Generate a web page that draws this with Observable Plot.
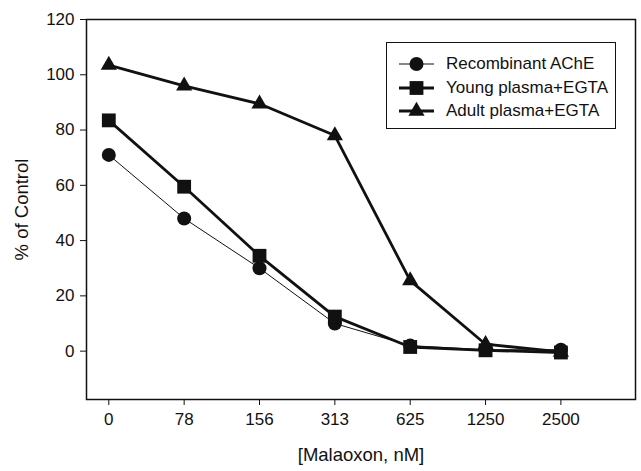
<!DOCTYPE html>
<html>
<head>
<meta charset="utf-8">
<script src="https://cdn.jsdelivr.net/npm/d3@7"></script>
<script src="https://cdn.jsdelivr.net/npm/@observablehq/plot@0.6"></script>
<style>
  html, body { margin: 0; padding: 0; background: #fff; }
  #wrap { position: relative; width: 641px; height: 471px; font-family: "Liberation Sans", Arial, sans-serif; }
  #legend { position: absolute; left: 386px; top: 42px; width: 230px; height: 87px; border: 1.5px solid #111; background: #fff; box-sizing: border-box; }
  .row { position: absolute; left: 0; height: 24px; display: flex; align-items: center; }
  .row span { font-size: 17px; color: #111; white-space: nowrap; }
</style>
</head>
<body>
<div id="wrap"></div>
<script>
const doses = ["0", "78", "156", "313", "625", "1250", "2500"];
const recombinant = [71, 48, 30, 10, 2, 0.5, 0.5];
const young = [83.5, 59.5, 34.5, 12.5, 1.5, 0.3, -0.5];
const adult = [103.5, 96, 89.5, 78, 25.5, 2.5, -0.3];
const seriesNames = ["Recombinant AChE", "Young plasma+EGTA", "Adult plasma+EGTA"];
const yTicks = [0, 20, 40, 60, 80, 100, 120];

const seriesValues = [recombinant, young, adult];
const symbols = ["circle", "square", "triangle"];
const radii = [7, 7.8, 6];
const widths = [1, 2.8, 2.8];

const rows = [];
seriesValues.forEach((vals, s) => vals.forEach((v, i) => rows.push({series: seriesNames[s], i, v})));

const marks = [];
seriesNames.forEach((name, s) => {
  const d = rows.filter(r => r.series === name);
  marks.push(Plot.line(d, {x: "i", y: "v", stroke: "#111", strokeWidth: widths[s]}));
});
seriesNames.forEach((name, s) => {
  const d = rows.filter(r => r.series === name);
  marks.push(Plot.dot(d, {x: "i", y: "v", symbol: () => symbols[s], r: radii[s], fill: "#111", stroke: "none"}));
});

const chart = Plot.plot({
  width: 641,
  height: 471,
  marginLeft: 86,
  marginRight: 6,
  marginTop: 19,
  marginBottom: 72,
  style: {fontFamily: "'Liberation Sans', Arial, sans-serif", fontSize: "17px", color: "#111", background: "#fff"},
  symbol: {type: "identity"},
  x: {type: "linear", domain: [-0.296, 6.99]},
  y: {domain: [-17.5, 120]},
  marks: [
    Plot.axisX(d3.range(doses.length), {tickFormat: i => doses[i], tickSize: 6, tickPadding: 7, label: "[Malaoxon, nM]", labelAnchor: "center", labelOffset: 61, labelArrow: "none"}),
    Plot.axisY(yTicks, {tickSize: 6, tickPadding: 6, label: "% of Control", labelAnchor: "center", labelOffset: 72, labelArrow: "none"}),
    Plot.frame({stroke: "#111", strokeWidth: 1.5}),
    ...marks
  ]
});
chart.querySelectorAll("text").forEach(t => { t.style.fontSize = "17px"; });
chart.querySelectorAll("g[aria-label$='axis label'] text").forEach(t => { t.style.fontSize = "18.5px"; });
document.getElementById("wrap").appendChild(chart);

// legend
const legend = document.createElement("div");
legend.id = "legend";
const rowTops = [9, 33, 56];
seriesNames.forEach((name, s) => {
  const row = document.createElement("div");
  row.className = "row";
  row.style.top = rowTops[s] + "px";
  const ns = "http://www.w3.org/2000/svg";
  const svg = document.createElementNS(ns, "svg");
  svg.setAttribute("width", 58);
  svg.setAttribute("height", 24);
  const line = document.createElementNS(ns, "line");
  line.setAttribute("x1", 12); line.setAttribute("x2", 47);
  line.setAttribute("y1", 12); line.setAttribute("y2", 12);
  line.setAttribute("stroke", "#111"); line.setAttribute("stroke-width", widths[s]);
  svg.appendChild(line);
  const sym = {circle: d3.symbolCircle, square: d3.symbolSquare, triangle: d3.symbolTriangle}[symbols[s]];
  const path = document.createElementNS(ns, "path");
  path.setAttribute("d", d3.symbol(sym, Math.PI * radii[s] * radii[s])());
  path.setAttribute("transform", "translate(29.5,12)");
  path.setAttribute("fill", "#111");
  svg.appendChild(path);
  row.appendChild(svg);
  const label = document.createElement("span");
  label.textContent = name;
  label.style.marginLeft = "1px";
  row.appendChild(label);
  legend.appendChild(row);
});
document.getElementById("wrap").appendChild(legend);
</script>
</body>
</html>
